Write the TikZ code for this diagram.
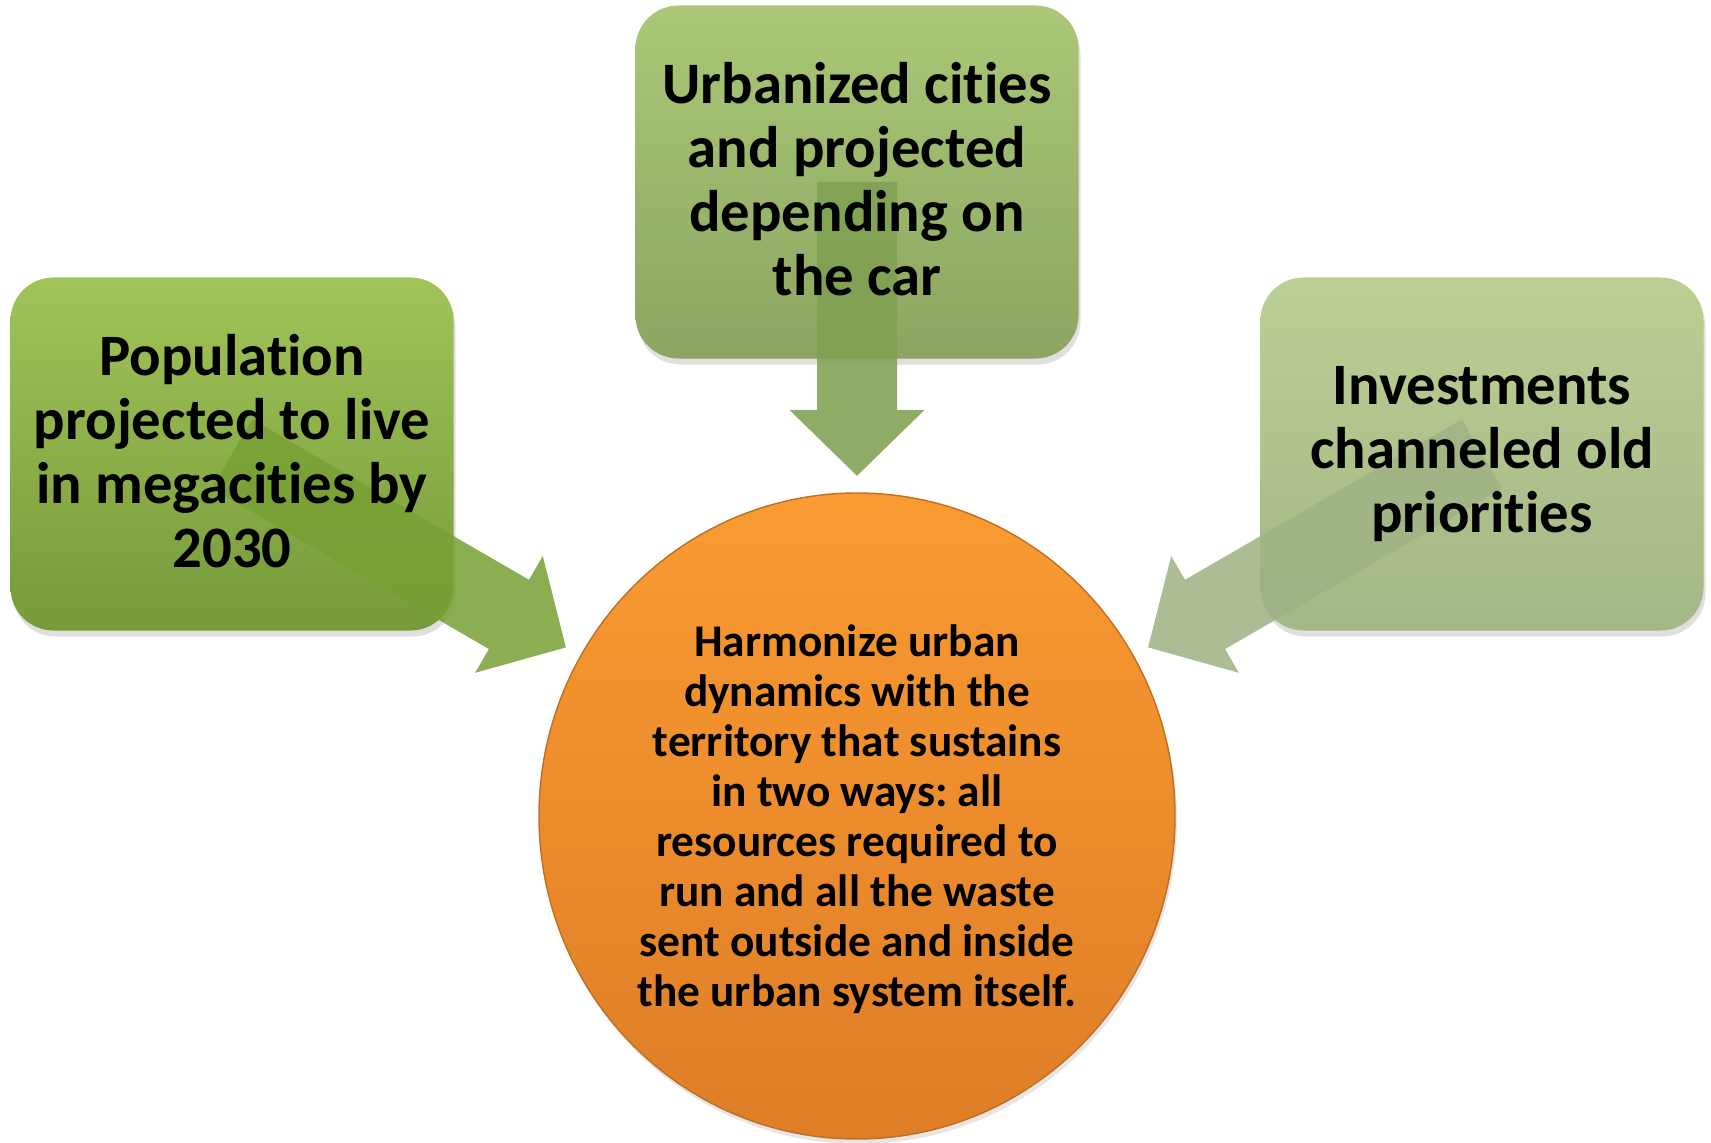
\documentclass[tikz,border=0pt]{standalone}
\usepackage{fontspec}
\setmainfont{Carlito}[Ligatures=CommonOff]
\frenchspacing
\usepackage{tikz}
\usetikzlibrary{arrows.meta, shadows, shapes.geometric}

\definecolor{popTop}{HTML}{A0C458}
\definecolor{popBot}{HTML}{779A3B}
\definecolor{carTop}{HTML}{AAC877}
\definecolor{carBot}{HTML}{8CA561}
\definecolor{invTop}{HTML}{BBCF93}
\definecolor{invBot}{HTML}{A4B787}
\definecolor{popArrow}{HTML}{78A034}
\definecolor{carArrow}{HTML}{80A052}
\definecolor{invArrow}{HTML}{A0B386}
\definecolor{hubTop}{HTML}{FA9B32}
\definecolor{hubBot}{HTML}{DE7D27}
\definecolor{hubLine}{HTML}{C06E22}

\begin{document}
\begin{tikzpicture}[
    box/.style={rounded corners=0.43cm, minimum width=4.43cm, minimum height=3.53cm,
        drop shadow={opacity=0.25, shadow xshift=0.02cm, shadow yshift=-0.06cm}},
    boxtext/.style={align=center, font=\fontsize{16.7}{18.2}\selectfont\bfseries},
    fat/.style={draw=#1, line width=0.8cm, shorten >=0.17cm,
        -{Triangle[width=1.31cm, length=0.66cm]}}
]
    \useasboundingbox (0, 0) rectangle (17.11, 11.42);

    \node[box, top color=popTop, bottom color=popBot] (pop) at (2.32, 6.88) {};
    \node[box, top color=carTop, bottom color=carBot] (car) at (8.57, 9.60) {};
    \node[box, top color=invTop, bottom color=invBot] (inv) at (14.82, 6.88) {};

    \node[ellipse, minimum width=6.36cm, minimum height=6.46cm, inner sep=0pt, outer sep=0pt,
        draw=hubLine, line width=0.4pt, top color=hubTop, bottom color=hubBot,
        drop shadow={opacity=0.2, shadow xshift=0.02cm, shadow yshift=-0.05cm}] (hub) at (8.57, 3.26) {};

    % arrows into the circle
    \begin{scope}[transparency group, opacity=0.85]
        \draw[fat=popArrow] (pop.center) -- (hub);
    \end{scope}
    \begin{scope}[transparency group, opacity=0.88]
        \draw[fat=carArrow] (car.center) -- (hub);
    \end{scope}
    \begin{scope}[transparency group, opacity=0.88]
        \draw[fat=invArrow] (inv.center) -- (hub);
    \end{scope}

    \node[boxtext] (popText) at (2.32, 6.91)
        {Population\\projected to live\\in megacities by\\2030};
    \node[boxtext] (carText) at (8.57, 9.63)
        {Urbanized cities\\and projected\\depending on\\the car};
    \node[boxtext] (invText) at (14.82, 6.88)
        {Investments\\channeled old\\priorities};
    \node[align=center, font=\fontsize{12.9}{14.2}\selectfont\bfseries] (hubText) at (8.57, 3.23)
        {Harmonize urban\\dynamics with the\\territory that sustains\\in two ways: all\\resources required to\\run and all the waste\\sent outside and inside\\the urban system itself.};

\end{tikzpicture}
\end{document}
